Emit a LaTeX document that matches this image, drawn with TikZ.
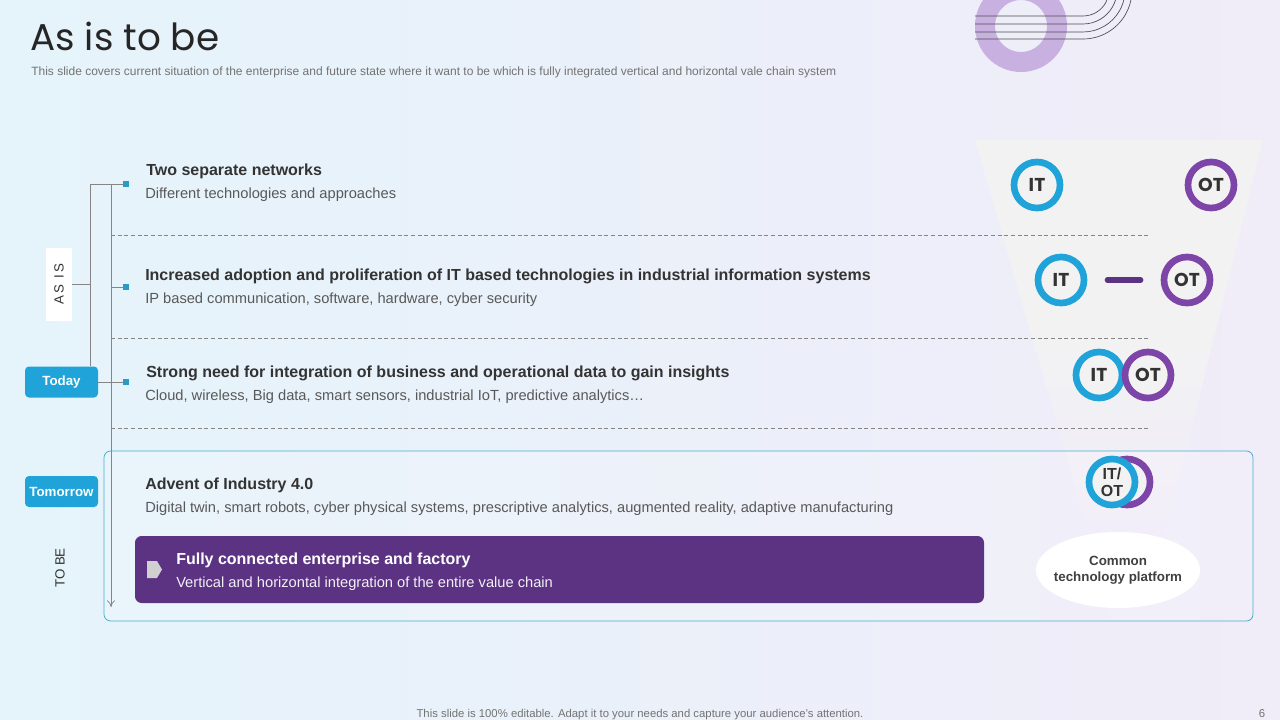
\documentclass[tikz,border=0pt]{standalone}
\usepackage{fontspec}
\setmainfont{Liberation Sans}
\newfontfamily\titlefont{Poppins}
\usetikzlibrary{shapes.geometric,arrows.meta}
\definecolor{itblue}{HTML}{1FA3D9}
\definecolor{otpurple}{HTML}{7D45A8}
\definecolor{dkpurple}{HTML}{5C3383}
\definecolor{ringpurple}{HTML}{C8B1E0}
\definecolor{txtdark}{HTML}{333333}
\definecolor{txtgray}{HTML}{595959}
\definecolor{linegray}{HTML}{858585}
\definecolor{sqteal}{HTML}{2B9BC3}
\definecolor{boxteal}{HTML}{45AFCB}
\definecolor{bgleft}{HTML}{E5F4FB}
\definecolor{bgright}{HTML}{F0ECF8}
\definecolor{funnelc}{HTML}{F2F2F3}
\definecolor{iconc}{HTML}{D0D0D0}
\tikzset{
  heading/.style={anchor=base west, inner sep=0pt, text=txtdark, font=\fontsize{12}{14}\selectfont\bfseries},
  subtext/.style={anchor=base west, inner sep=0pt, text=txtgray, font=\fontsize{11}{13}\selectfont},
  conn/.style={draw=linegray, line width=0.6pt},
  sepline/.style={draw=linegray, line width=0.5pt, dash pattern=on 3pt off 2pt},
  sq/.style={fill=sqteal, inner sep=0pt, minimum size=4pt},
  tag/.style={fill=itblue, rounded corners=3pt, minimum width=54.75pt, minimum height=23.25pt, inner sep=0pt, text=white, font=\fontsize{10}{12}\selectfont\bfseries},
  itc/.style={circle, draw=itblue, fill=funnelc, line width=5pt, minimum size=34.5pt, inner sep=0pt, text=txtdark, font=\titlefont\fontsize{14}{16}\selectfont\bfseries},
  otc/.style={itc, draw=otpurple},
  deco/.style={draw=black!70, line width=0.5pt}
}
\begin{document}
\begin{tikzpicture}[x=0.75pt,y=-0.75pt]
\useasboundingbox (0,0) rectangle (1280,720);
\shade[left color=bgleft,right color=bgright] (0,0) rectangle (1280,720);

% decoration top right
\begin{scope}
\clip (0,0) rectangle (1280,720);
\draw[ringpurple, line width=15pt] (1021,26) circle[radius=36];
\draw[deco] (975,16) -- (1083,16) arc[start angle=90,end angle=-20,radius=26];
\draw[deco] (975,24) -- (1083,24) arc[start angle=90,end angle=-20,radius=34];
\draw[deco] (975,32) -- (1083,32) arc[start angle=90,end angle=-20,radius=42];
\draw[deco] (975,39) -- (1083,39) arc[start angle=90,end angle=-20,radius=49];
\end{scope}

% title
\node[anchor=base west, inner sep=0pt, text=black!85, font=\titlefont\fontsize{28}{32}\selectfont] (title) at (30,51) {As is to be};
\node[anchor=base west, inner sep=0pt, text=black!55, font=\fontsize{9}{11}\selectfont] (subtitle) at (31,76) {This slide covers current situation of the enterprise and future state where it want to be which is fully integrated vertical and horizontal vale chain system};

% funnel
\shade[top color=funnelc, bottom color=bgright, middle color=funnelc] (975,140) -- (1263,140) -- (1165,535) -- (1089,535) -- cycle;

% separators
\draw[sepline] (111,235) -- (1148,235);
\draw[sepline] (111,338) -- (1148,338);
\draw[sepline] (111,428) -- (1148,428);

% tomorrow box
\draw[boxteal, line width=0.6pt, rounded corners=5pt, fill=white, fill opacity=0.15] (104,451) rectangle (1253,621);

% left structure
\node[fill=white, minimum width=19.5pt, minimum height=54.75pt, inner sep=0pt] (asis) at (59,284) {};
\node[rotate=90, text=txtdark, font=\fontsize{10}{12}\selectfont] at (asis) {A\,S\, I\,S};
\node[tag] (today) at (61.5,382) {Today};
\node[tag] (tomorrow) at (61.5,491.5) {Tomorrow};
\node[rotate=90, text=txtdark, font=\fontsize{10}{12}\selectfont] (tobe) at (60,568) {TO BE};

\node[sq] (sq1) at (126,184) {};
\node[sq] (sq2) at (126,287) {};
\node[sq] (sq3) at (126,382) {};
\coordinate (corner) at (90,184);
\coordinate (atop) at (111,184);
\coordinate (abot) at (111,607);

\draw[conn] (sq1.west) -- (corner) -- (corner |- today.north);
\draw[conn] (asis.east) -- (asis.east -| corner);
\draw[conn] (today.east) -- (sq3.west);
\draw[conn] (sq2.west) -- (sq2.west -| atop);
\draw[conn, -{To[length=5pt,width=6pt]}] (atop) -- (abot);

% texts
\node[heading] (h1) at (146,176) {Two separate networks};
\node[subtext] (s1) at (145,199) {Different technologies and approaches};
\node[heading] (h2) at (145,280) {Increased adoption and proliferation of IT based technologies in industrial information systems};
\node[subtext] (s2) at (145,303) {IP based communication, software, hardware, cyber security};
\node[heading] (h3) at (146,377) {Strong need for integration of business and operational data to gain insights};
\node[subtext] (s3) at (145,400) {Cloud, wireless, Big data, smart sensors, industrial IoT, predictive analytics…};
\node[heading] (h4) at (145,489) {Advent of Industry 4.0};
\node[subtext] (s4) at (145,512) {Digital twin, smart robots, cyber physical systems, prescriptive analytics, augmented reality, adaptive manufacturing};

% purple box
\node[fill=dkpurple, rounded corners=5pt, minimum width=636.75pt, minimum height=50.25pt, inner sep=0pt] (fc) at (559.5,569.5) {};
\fill[iconc] (147,561) -- (157,561) -- (162,569.5) -- (157,578) -- (147,578) -- cycle;
\node[heading, text=white] (h5) at (176,564) {Fully connected enterprise and factory};
\node[subtext, text=white!92!dkpurple] (s5) at (176,587) {Vertical and horizontal integration of the entire value chain};

% IT / OT circles
\node[itc] (it1) at (1037,185) {IT};
\node[otc] (ot1) at (1211,185) {OT};
\node[itc] (it2) at (1061,280) {IT};
\node[otc] (ot2) at (1187,280) {OT};
\draw[dkpurple, line width=4pt, line cap=round] ([xshift=15pt]it2.east) -- ([xshift=-15pt]ot2.west);
\node[itc] (it3) at (1099,375) {IT};
\node[otc] (ot3) at (1148,375) {OT};
\node[otc] (ot4) at (1127,482) {};
\node[itc, align=center, font=\fontsize{12}{13}\selectfont\bfseries] (it4) at (1112,482) {IT/\\OT};

% ellipse
\node[ellipse, fill=white, minimum width=123pt, minimum height=57pt, inner sep=0pt] (ctp) at (1118,570) {};
\node[align=center, inner sep=0pt, text=black!75, font=\fontsize{10}{12}\selectfont\bfseries] (ctptext) at (ctp) {Common\\technology platform};

% footer
\node[anchor=base, inner sep=0pt, text=black!55, font=\fontsize{8.5}{10}\selectfont] (footer) at (640,717) {This slide is 100\% editable. Adapt it to your needs and capture your audience’s attention.};
\node[anchor=base, inner sep=0pt, text=black!55, font=\fontsize{8.5}{10}\selectfont] (pnum) at (1262,717) {6};
\end{tikzpicture}
\end{document}
